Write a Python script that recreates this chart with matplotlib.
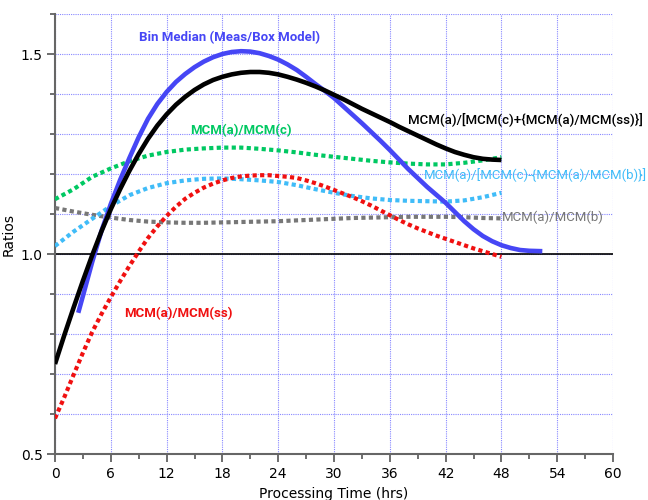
import matplotlib
matplotlib.use("Agg")
import matplotlib.pyplot as plt
from matplotlib.ticker import MultipleLocator, FormatStrFormatter

# ---- data ----
black_x = list(range(0, 49))
black_y = [0.725, 0.797, 0.866, 0.933, 0.997, 1.057, 1.112, 1.162, 1.208, 1.25, 1.288, 1.321, 1.349, 1.373,
           1.393, 1.41, 1.424, 1.435, 1.443, 1.449, 1.453, 1.455, 1.455, 1.453, 1.449, 1.443, 1.436, 1.428,
           1.419, 1.409, 1.398, 1.387, 1.375, 1.363, 1.352, 1.341, 1.33, 1.318, 1.307, 1.296, 1.285, 1.274,
           1.264, 1.255, 1.248, 1.242, 1.238, 1.236, 1.235]

blue_x = [2.5, 3, 4, 5, 6, 7, 8, 9, 10, 11, 12, 13, 14, 15, 16, 17, 18, 19, 20, 21, 22, 23, 24, 25, 26, 27,
          28, 29, 30, 31, 32, 33, 34, 35, 36, 37, 38, 39, 40, 41, 42, 43, 44, 45, 46, 47, 48, 49, 50, 51, 52.4]
blue_y = [0.853, 0.895, 0.98, 1.058, 1.125, 1.185, 1.24, 1.292, 1.338, 1.375, 1.405, 1.43, 1.45, 1.467,
          1.481, 1.492, 1.5, 1.505, 1.507, 1.506, 1.502, 1.495, 1.486, 1.474, 1.46, 1.443, 1.425, 1.408,
          1.39, 1.369, 1.348, 1.327, 1.305, 1.283, 1.26, 1.236, 1.212, 1.19, 1.168, 1.148, 1.128, 1.105,
          1.082, 1.062, 1.045, 1.032, 1.022, 1.015, 1.01, 1.008, 1.007]

green_x = [0, 2, 4, 6, 8, 10, 12, 14, 16, 18, 20, 22, 24, 26, 28, 30, 32, 34, 36, 38, 40, 42, 44, 46, 48]
green_y = [1.137, 1.162, 1.193, 1.214, 1.232, 1.246, 1.255, 1.261, 1.264, 1.266, 1.266, 1.263, 1.259, 1.254,
           1.248, 1.243, 1.238, 1.233, 1.229, 1.226, 1.224, 1.224, 1.228, 1.234, 1.242]

lblue_x = [0, 2, 4, 6, 8, 10, 12, 14, 16, 18, 20, 22, 24, 26, 28, 30, 32, 34, 36, 38, 40, 42, 44, 46, 48]
lblue_y = [1.02, 1.056, 1.088, 1.12, 1.147, 1.165, 1.177, 1.184, 1.188, 1.189, 1.187, 1.184, 1.18, 1.172,
           1.162, 1.153, 1.145, 1.139, 1.135, 1.133, 1.132, 1.131, 1.134, 1.142, 1.153]

gray_x = [0, 2, 4, 6, 8, 10, 12, 14, 16, 18, 20, 22, 24, 26, 28, 30, 32, 34, 36, 38, 40, 42, 44, 46, 48]
gray_y = [1.115, 1.106, 1.098, 1.091, 1.085, 1.081, 1.079, 1.078, 1.078, 1.079, 1.08, 1.081, 1.082, 1.084,
          1.086, 1.088, 1.09, 1.091, 1.092, 1.093, 1.093, 1.093, 1.092, 1.09, 1.089]

red_x = list(range(0, 49))
red_y = [0.589, 0.642, 0.698, 0.753, 0.805, 0.85, 0.892, 0.932, 0.97, 1.006, 1.04, 1.069, 1.095, 1.118,
         1.138, 1.153, 1.166, 1.176, 1.184, 1.19, 1.194, 1.196, 1.197, 1.197, 1.195, 1.193, 1.19, 1.184,
         1.177, 1.169, 1.16, 1.151, 1.142, 1.132, 1.121, 1.109, 1.097, 1.085, 1.074, 1.064, 1.055, 1.046,
         1.038, 1.03, 1.022, 1.014, 1.007, 1.0, 0.993]

labels = {
    "blue": "Bin Median (Meas/Box Model)",
    "green": "MCM(a)/MCM(c)",
    "black": "MCM(a)/[MCM(c)+{MCM(a)/MCM(ss)}]",
    "lblue": "MCM(a)/[MCM(c)-{MCM(a)/MCM(b)}]",
    "gray": "MCM(a)/MCM(b)",
    "red": "MCM(a)/MCM(ss)",
}
x_ticks = [0, 6, 12, 18, 24, 30, 36, 42, 48, 54, 60]
y_ticks = [0.5, 1.0, 1.5]

C_BLUE = "#4646F5"
C_GREEN = "#00C862"
C_LBLUE = "#40BCF8"
C_GRAY = "#777777"
C_RED = "#F01010"

fig = plt.figure(figsize=(6.48, 5.0), dpi=100)
ax = fig.add_axes([55 / 648, 46 / 500, 558 / 648, 440 / 500])

ax.set_xlim(0, 60)
ax.set_ylim(0.5, 1.6)

# grid
ax.xaxis.set_major_locator(MultipleLocator(6))
ax.xaxis.set_minor_locator(MultipleLocator(3))
ax.yaxis.set_major_locator(MultipleLocator(0.5))
ax.yaxis.set_minor_locator(MultipleLocator(0.1))
ax.yaxis.set_major_formatter(FormatStrFormatter("%.1f"))
ax.grid(True, which="major", axis="x", color="#8888FF", linestyle=(0, (1, 1)), linewidth=0.8)
ax.grid(True, which="both", axis="y", color="#8888FF", linestyle=(0, (1, 1)), linewidth=0.8)
ax.set_axisbelow(True)

for s in ["top", "right"]:
    ax.spines[s].set_visible(False)
for s in ["left", "bottom"]:
    ax.spines[s].set_color("#666666")
    ax.spines[s].set_linewidth(1.5)

ax.tick_params(which="major", length=6, width=1.2, color="#555555", labelsize=10, pad=3)
ax.tick_params(which="minor", length=3.5, width=1.2, color="#555555")
ax.set_xticks(x_ticks)
ax.set_yticks(y_ticks)

ax.axhline(1.0, color="black", linewidth=1.2, zorder=2)

dot = (0, (1, 0.8))
ax.plot(gray_x, gray_y, color=C_GRAY, linewidth=3, linestyle=dot, dash_capstyle="butt", zorder=3)
ax.plot(lblue_x, lblue_y, color=C_LBLUE, linewidth=3, linestyle=dot, dash_capstyle="butt", zorder=3)
ax.plot(green_x, green_y, color=C_GREEN, linewidth=3, linestyle=dot, dash_capstyle="butt", zorder=3)
ax.plot(red_x, red_y, color=C_RED, linewidth=3, linestyle=dot, dash_capstyle="butt", zorder=3)
ax.plot(blue_x, blue_y, color=C_BLUE, linewidth=3.3, solid_capstyle="butt", solid_joinstyle="round", zorder=4)
ax.plot(black_x, black_y, color="black", linewidth=3.3, solid_capstyle="butt", solid_joinstyle="round", zorder=5)

lf = "Roboto"
ax.text(18.8, 1.541, labels["blue"], color=C_BLUE, fontsize=9.5, fontweight="bold", family=lf,
        ha="center", va="center", clip_on=False)
ax.text(19.95, 1.3075, labels["green"], color=C_GREEN, fontsize=9.5, fontweight="bold", family=lf,
        ha="center", va="center")
ax.text(50.6, 1.3375, labels["black"], color="black", fontsize=9.5, fontweight="medium", family=lf,
        ha="center", va="center", clip_on=False)
ax.text(51.7, 1.1975, labels["lblue"], color=C_LBLUE, fontsize=9.5, family=lf,
        ha="center", va="center", clip_on=False)
ax.text(48, 1.091, labels["gray"], color=C_GRAY, fontsize=9.5, family=lf,
        ha="left", va="center", clip_on=False)
ax.text(13.3, 0.85, labels["red"], color=C_RED, fontsize=9.5, fontweight="bold", family=lf,
        ha="center", va="center")

ax.set_ylabel("Ratios", fontsize=10)
ax.yaxis.set_label_coords(-0.07, 0.5)
ax.set_xlabel("Processing Time (hrs)", fontsize=10)
ax.xaxis.set_label_coords(0.5, -0.074)

fig.savefig("out.png", dpi=100)
